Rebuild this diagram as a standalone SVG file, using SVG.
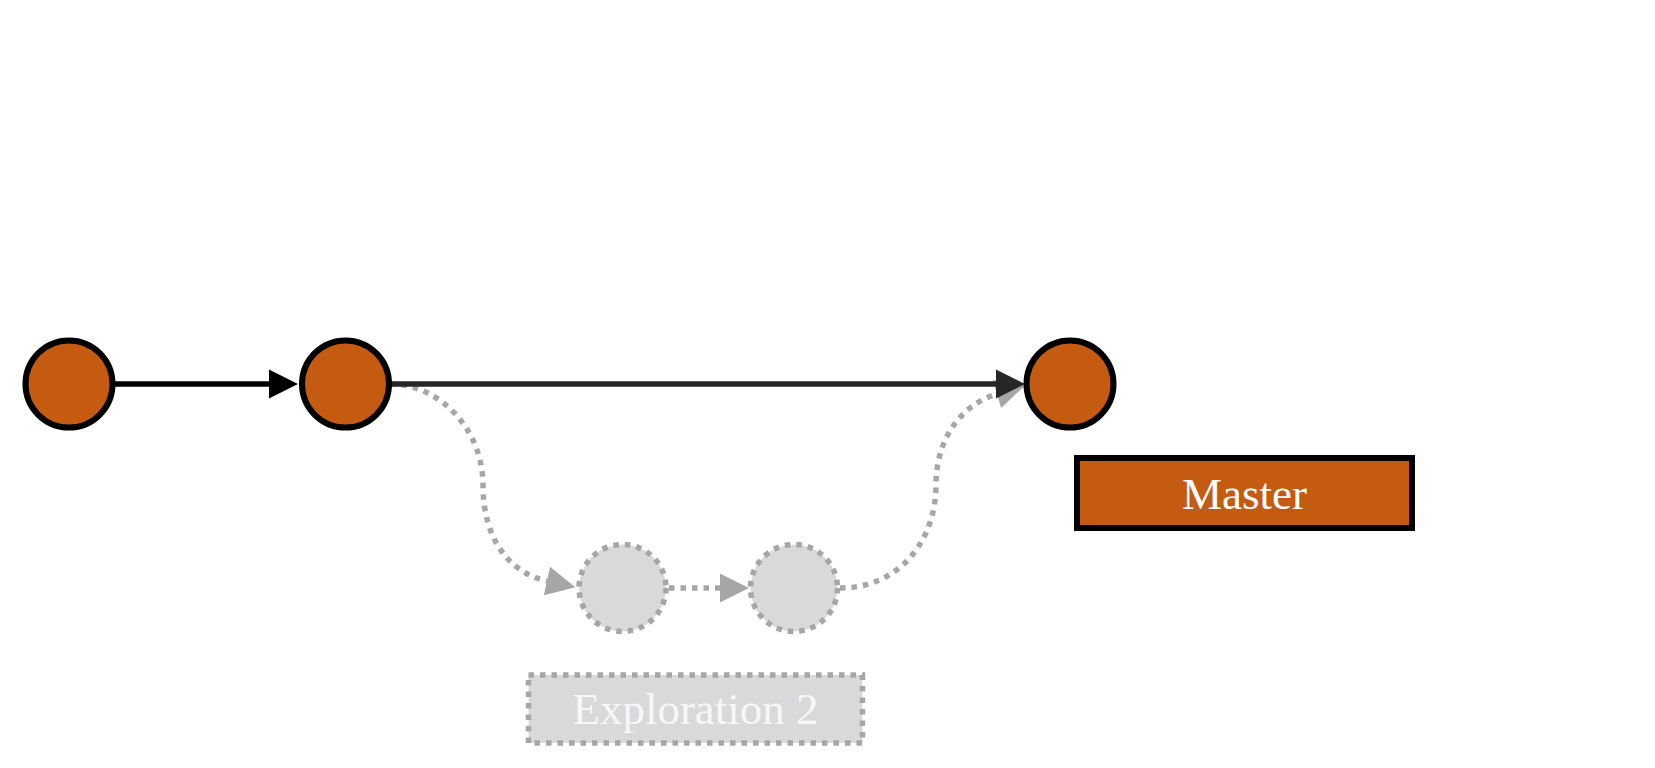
<svg xmlns="http://www.w3.org/2000/svg" width="1655" height="768" viewBox="0 0 1655 768">
<style>
.commit{fill:#c55a11;stroke:#000;stroke-width:6}
.ghost{fill:#d9d9d9;stroke:#a6a6a6;stroke-width:5.5;stroke-dasharray:5.5 6}
.edge{fill:none;stroke-width:5.5}
.solid{stroke:#000}
.main{stroke:#262626}
.dotted{stroke:#a6a6a6;stroke-dasharray:5.5 6}
.lbl{font-family:"Liberation Serif","Times New Roman",serif;font-size:45px;text-anchor:middle}
</style>
<defs>
<marker id="arrBlack" markerUnits="userSpaceOnUse" markerWidth="30" markerHeight="30" viewBox="0 0 30 30" refX="0" refY="15" orient="auto" overflow="visible"><path d="M0,0.5 L29,15 L0,29.5 z" fill="#000"/></marker>
<marker id="arrDark" markerUnits="userSpaceOnUse" markerWidth="30" markerHeight="30" viewBox="0 0 30 30" refX="0" refY="15" orient="auto" overflow="visible"><path d="M0,0.5 L29,15 L0,29.5 z" fill="#262626"/></marker>
<marker id="arrGray" markerUnits="userSpaceOnUse" markerWidth="30" markerHeight="30" viewBox="0 0 30 30" refX="0" refY="15" orient="auto" overflow="visible"><path d="M0,0.5 L29,15 L0,29.5 z" fill="#a6a6a6"/></marker>
</defs>
<rect width="1655" height="768" fill="#fff"/>
<g id="connectors">
<path class="edge dotted" d="M390 384 C440 384 483 430 483 485 C483 540 510 573 547 581" marker-end="url(#arrGray)"/>
<path class="edge dotted" d="M669 588 L720 588" marker-end="url(#arrGray)"/>
<path class="edge dotted" d="M840 588 C900 588 936 540 936 485 C936 440 960 405 997 394" marker-end="url(#arrGray)"/>
<path class="edge solid" d="M113 384 L269 384" marker-end="url(#arrBlack)"/>
<path class="edge main" d="M390 384 L996 384" marker-end="url(#arrDark)"/>
</g>
<g id="commit1"><circle class="commit" cx="69" cy="384" r="43.5"/></g>
<g id="commit2"><circle class="commit" cx="345.5" cy="384" r="43.5"/></g>
<g id="commit3"><circle class="commit" cx="1070" cy="384" r="43.5"/></g>
<g id="exp1"><circle class="ghost" cx="622.5" cy="588" r="43.5"/></g>
<g id="exp2"><circle class="ghost" cx="794" cy="588" r="43.5"/></g>
<g id="master-label">
<rect x="1077" y="458" width="335" height="70" fill="#c55a11" stroke="#000" stroke-width="6"/>
<text class="lbl" x="1244.5" y="509" fill="#fff">Master</text>
</g>
<g id="exploration2-label">
<rect x="528.5" y="675" width="334" height="68" class="ghost"/>
<text class="lbl" x="695.5" y="724" fill="#f7f7f7">Exploration 2</text>
</g>
</svg>
